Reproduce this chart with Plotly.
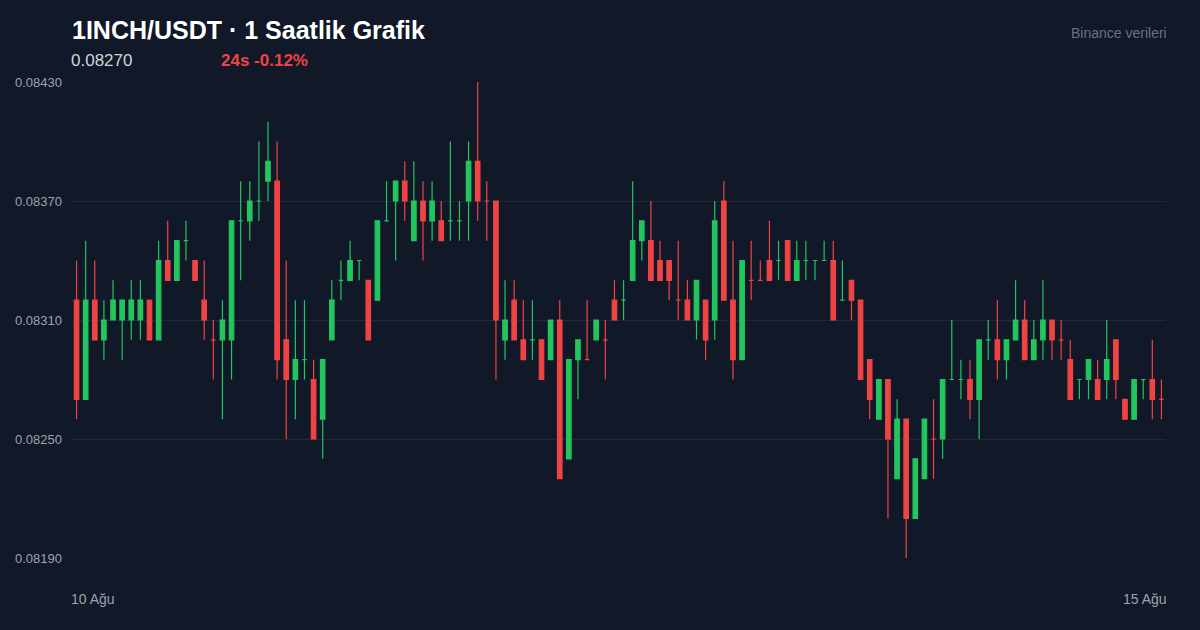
import plotly.graph_objects as go

# prices in units of 0.0001
opens  = [832,827,832,830,831,831,831,831,832,830, 834,833,835,834,832,830,830,830,836,836,
          837,838,838,830,828,829,828,826,830,833, 833,834,833,832,836,837,838,835,837,836,
          836,836,836,837,839,837,837,830,832,830, 830,830,829,831,824,829,829,830,830,832,
          832,833,835,835,834,834,832,832,831,832, 831,837,832,829,833,833,834,834,835,833,
          834,834,834,834,832,833,832,829,826,828, 823,826,821,823,825,825,828,828,828,827,
          830,830,829,830,831,829,830,831,830,829, 828,828,828,828,830,827,826,828,828,827]
closes = [827,832,830,831,832,832,832,832,830,834, 833,835,835,833,831,830,831,836,836,837,
          837,839,829,828,829,829,825,829,832,833, 834,834,830,836,836,838,837,837,836,837,
          835,836,836,839,837,837,831,831,830,829, 830,828,831,823,829,830,829,831,830,831,
          832,835,836,833,833,833,832,831,833,830, 836,832,829,834,833,833,833,834,833,834,
          834,834,834,831,832,832,828,827,828,825, 826,821,824,826,825,828,828,828,827,830,
          830,829,830,831,829,830,831,830,830,827, 828,829,827,829,828,826,828,828,827,827]
highs  = [834,835,834,832,833,832,833,833,832,835, 836,835,836,834,834,831,832,836,838,838,
          840,841,840,834,832,832,829,829,833,834, 835,834,833,836,838,838,839,839,838,838,
          837,840,837,840,843,838,837,833,833,832, 832,830,831,832,829,830,832,831,831,833,
          833,838,836,837,835,834,835,833,833,832, 837,838,835,834,835,834,836,835,835,835,
          835,834,835,835,834,833,832,829,828,828, 827,826,824,826,827,828,831,829,829,830,
          831,832,830,833,832,831,833,831,831,830, 828,829,829,831,830,827,828,828,830,828]
lows   = [826,827,830,829,831,829,830,830,830,830, 833,833,834,833,830,828,826,828,833,835,
          836,837,828,825,826,828,825,824,830,832, 833,833,830,832,836,834,836,835,834,835,
          835,835,835,835,836,835,828,829,830,829, 829,828,829,823,824,827,829,830,828,831,
          831,833,834,833,833,832,831,831,830,829, 830,832,828,829,832,833,833,833,833,833,
          833,833,834,831,832,831,828,826,826,821, 823,819,821,823,823,824,828,827,826,825,
          829,828,828,830,829,829,829,829,829,827, 827,827,827,827,827,826,826,827,826,826]

scale = 10000.0
x = list(range(len(opens)))
y_ticks = [0.0843, 0.0837, 0.0831, 0.0825, 0.0819]

fig = go.Figure(go.Candlestick(
    x=x,
    open=[v / scale for v in opens], high=[v / scale for v in highs],
    low=[v / scale for v in lows], close=[v / scale for v in closes],
    increasing=dict(line=dict(color="#22c55e", width=1.2), fillcolor="#22c55e"),
    decreasing=dict(line=dict(color="#ef4444", width=1.2), fillcolor="#ef4444"),
    whiskerwidth=0, showlegend=False,
))

fig.update_layout(
    width=1200, height=630,
    paper_bgcolor="#111827", plot_bgcolor="#111827",
    margin=dict(l=72, r=34, t=82, b=72),
    font=dict(family="Liberation Sans, Arial, sans-serif", color="#9ca3af", size=13),
    title=dict(text="<b>1INCH/USDT · 1 Saatlik Grafik</b>", x=72 / 1200, xanchor="left",
               y=1 - 30 / 630, yanchor="middle", font=dict(size=25, color="#ffffff")),
    xaxis=dict(range=[-0.5, len(x) - 0.5], showgrid=False, showticklabels=False,
               rangeslider=dict(visible=False), zeroline=False, showline=False),
    yaxis=dict(range=[0.0819, 0.0843], tickvals=y_ticks, tickformat=".5f",
               gridcolor="#1f2937", gridwidth=1, zeroline=False, showline=False,
               ticks="", ticklabelstandoff=9, tickfont=dict(size=13, color="#9ca3af")),
)
anns = [
    dict(text="0.08270", x=0, y=1.0 + 21 / 476, xanchor="left", yanchor="middle",
         font=dict(size=17, color="#d1d5db")),
    dict(text="<b>24s -0.12%</b>", x=150 / 1094, y=1.0 + 21 / 476, xanchor="left", yanchor="middle",
         font=dict(size=17, color="#ef4444")),
    dict(text="Binance verileri", x=1, y=1.0 + 49 / 476, xanchor="right", yanchor="middle",
         font=dict(size=14, color="#6b7280"), xshift=3),
    dict(text="10 Ağu", x=0, y=-41 / 476, xanchor="left", yanchor="middle",
         font=dict(size=14, color="#9ca3af")),
    dict(text="15 Ağu", x=1, y=-41 / 476, xanchor="right", yanchor="middle",
         font=dict(size=14, color="#9ca3af"), xshift=3),
]
for a in anns:
    a.update(xref="paper", yref="paper", showarrow=False)
    if a["x"] != 1:
        a["xshift"] = -3
fig.update_layout(annotations=anns)

fig.write_html("out.html", config={"displayModeBar": False},
               post_script="document.body.style.margin='0';document.body.style.background='#111827';")
